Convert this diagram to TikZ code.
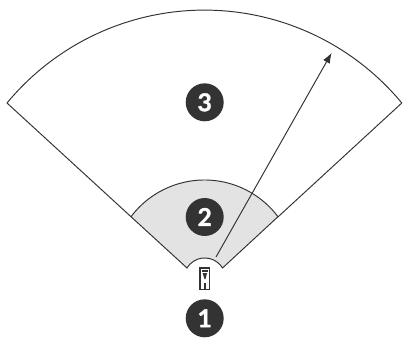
\documentclass[tikz,border=0pt]{standalone}
\usepackage{fontspec}
\setmainfont{Lato}[BoldFeatures={FakeBold=1.4}]
\usetikzlibrary{arrows.meta,calc}
\definecolor{zonedark}{HTML}{333333}
\definecolor{zonegray}{HTML}{E3E3E3}
\tikzstyle{badge} = [circle, fill=zonedark, text=white, minimum size=0.76cm, inner sep=0pt, font=\bfseries\fontsize{14}{14}\selectfont]
\tikzstyle{zoneline} = [draw=zonedark, line width=0.55pt, line join=miter]
\tikzstyle{arrow} = [-{Latex[length=2.1mm,width=1.5mm]}, zonedark, line width=0.55pt]

\begin{document}
\begin{tikzpicture}[x=0.02cm,y=-0.02cm]
\useasboundingbox (0,0) rectangle (402,338);
\fill[white] (0,0) rectangle (402,338);

% far zone
\draw[zoneline] (131,216.7) -- (7,103) arc[start angle=140.4,end angle=39.6,radius=256.2*0.02cm] -- (278,216.9);
% near zone
\draw[zoneline, fill=zonegray] (187,268) -- (131,216.7) arc[start angle=143.1,end angle=36.9,radius=91.9*0.02cm] -- (222.5,268)
  arc[start angle=31.2,end angle=148.8,radius=20.8*0.02cm] -- cycle;

% device
\draw[zonedark, line width=0.7pt, fill=white] (200,268) rectangle (209.5,289.5);
\fill[zonedark] (201.5,269.5) rectangle (208,271.5);
\fill[zonedark] (202.5,273) -- (207,273) -- (205.5,279) -- (204.5,279) -- cycle;
\fill[zonedark] (204,283) rectangle (205.5,288.5);

\coordinate (sensor) at (216,257);
\coordinate (rim) at (331.7,52.7);
\draw[arrow] (sensor) -- (rim);

\node[badge] (one) at (204.7,318.3) {1};
\node[badge] (two) at (204.7,217) {2};
\node[badge] (three) at (204.7,102.3) {3};
\end{tikzpicture}
\end{document}
